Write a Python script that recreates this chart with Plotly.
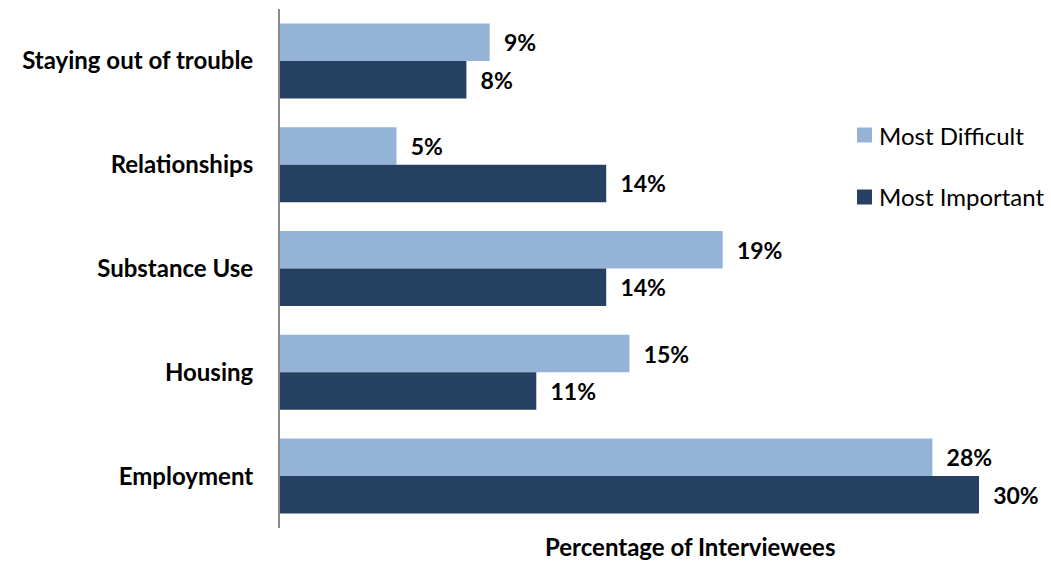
import plotly.graph_objects as go

categories = ["Staying out of trouble", "Relationships", "Substance Use", "Housing", "Employment"]
most_difficult = [9, 5, 19, 15, 28]
most_important = [8, 14, 14, 11, 30]
series_names = ["Most Difficult", "Most Important"]

LIGHT = "#95B3D7"
DARK = "#254061"
FONT = "Lato"

W, H = 1051, 562
L, R, T, B = 280, 51, 9, 34
PW, PH = W - L - R, H - T - B


def px_x(px):
    return (px - L) / PW


def px_y(py):
    return (H - B - py) / PH


fig = go.Figure()
for name, vals, color in [(series_names[0], most_difficult, LIGHT),
                          (series_names[1], most_important, DARK)]:
    fig.add_trace(go.Bar(
        y=categories, x=vals, orientation="h", name=name,
        marker=dict(color=color, line=dict(width=0)),
        texttemplate="\u00a0\u00a0%{x}%", textposition="outside", cliponaxis=False,
        textfont=dict(family=FONT, size=23, color="black", weight="bold"),
        showlegend=False,
    ))

fig.update_layout(
    width=W, height=H,
    margin=dict(l=L, r=R, t=T, b=B),
    paper_bgcolor="white", plot_bgcolor="white",
    barmode="group", bargap=0.277, bargroupgap=0,
    font=dict(family=FONT, color="black"),
    showlegend=False,
)
fig.update_xaxes(range=[0, PW / 23.3], visible=False, showgrid=False, zeroline=False)
fig.update_yaxes(
    autorange="reversed", showline=True, linecolor="#8c8c8c", linewidth=2,
    ticks="", showgrid=False, ticklabelstandoff=20,
    tickfont=dict(family=FONT, size=24, color="black", weight="bold"),
)

# axis title below the bars
fig.add_annotation(
    text="<b>Percentage of Interviewees</b>", xref="paper", yref="paper",
    x=px_x(690), y=px_y(546), xanchor="center", yanchor="middle",
    showarrow=False, font=dict(family=FONT, size=24, color="black"),
)

# legend: colour swatch plus label for each series
for name, color, cy in [(series_names[0], LIGHT, 135), (series_names[1], DARK, 197)]:
    fig.add_shape(
        type="rect", xref="paper", yref="paper",
        x0=px_x(857), x1=px_x(872), y0=px_y(cy - 7.5), y1=px_y(cy + 7.5),
        fillcolor=color, line=dict(width=0),
    )
    fig.add_annotation(
        text=name, xref="paper", yref="paper",
        x=px_x(877), y=px_y(cy), xanchor="left", yanchor="middle",
        showarrow=False, font=dict(family=FONT, size=24, color="black"),
    )

fig.write_html("out.html")
